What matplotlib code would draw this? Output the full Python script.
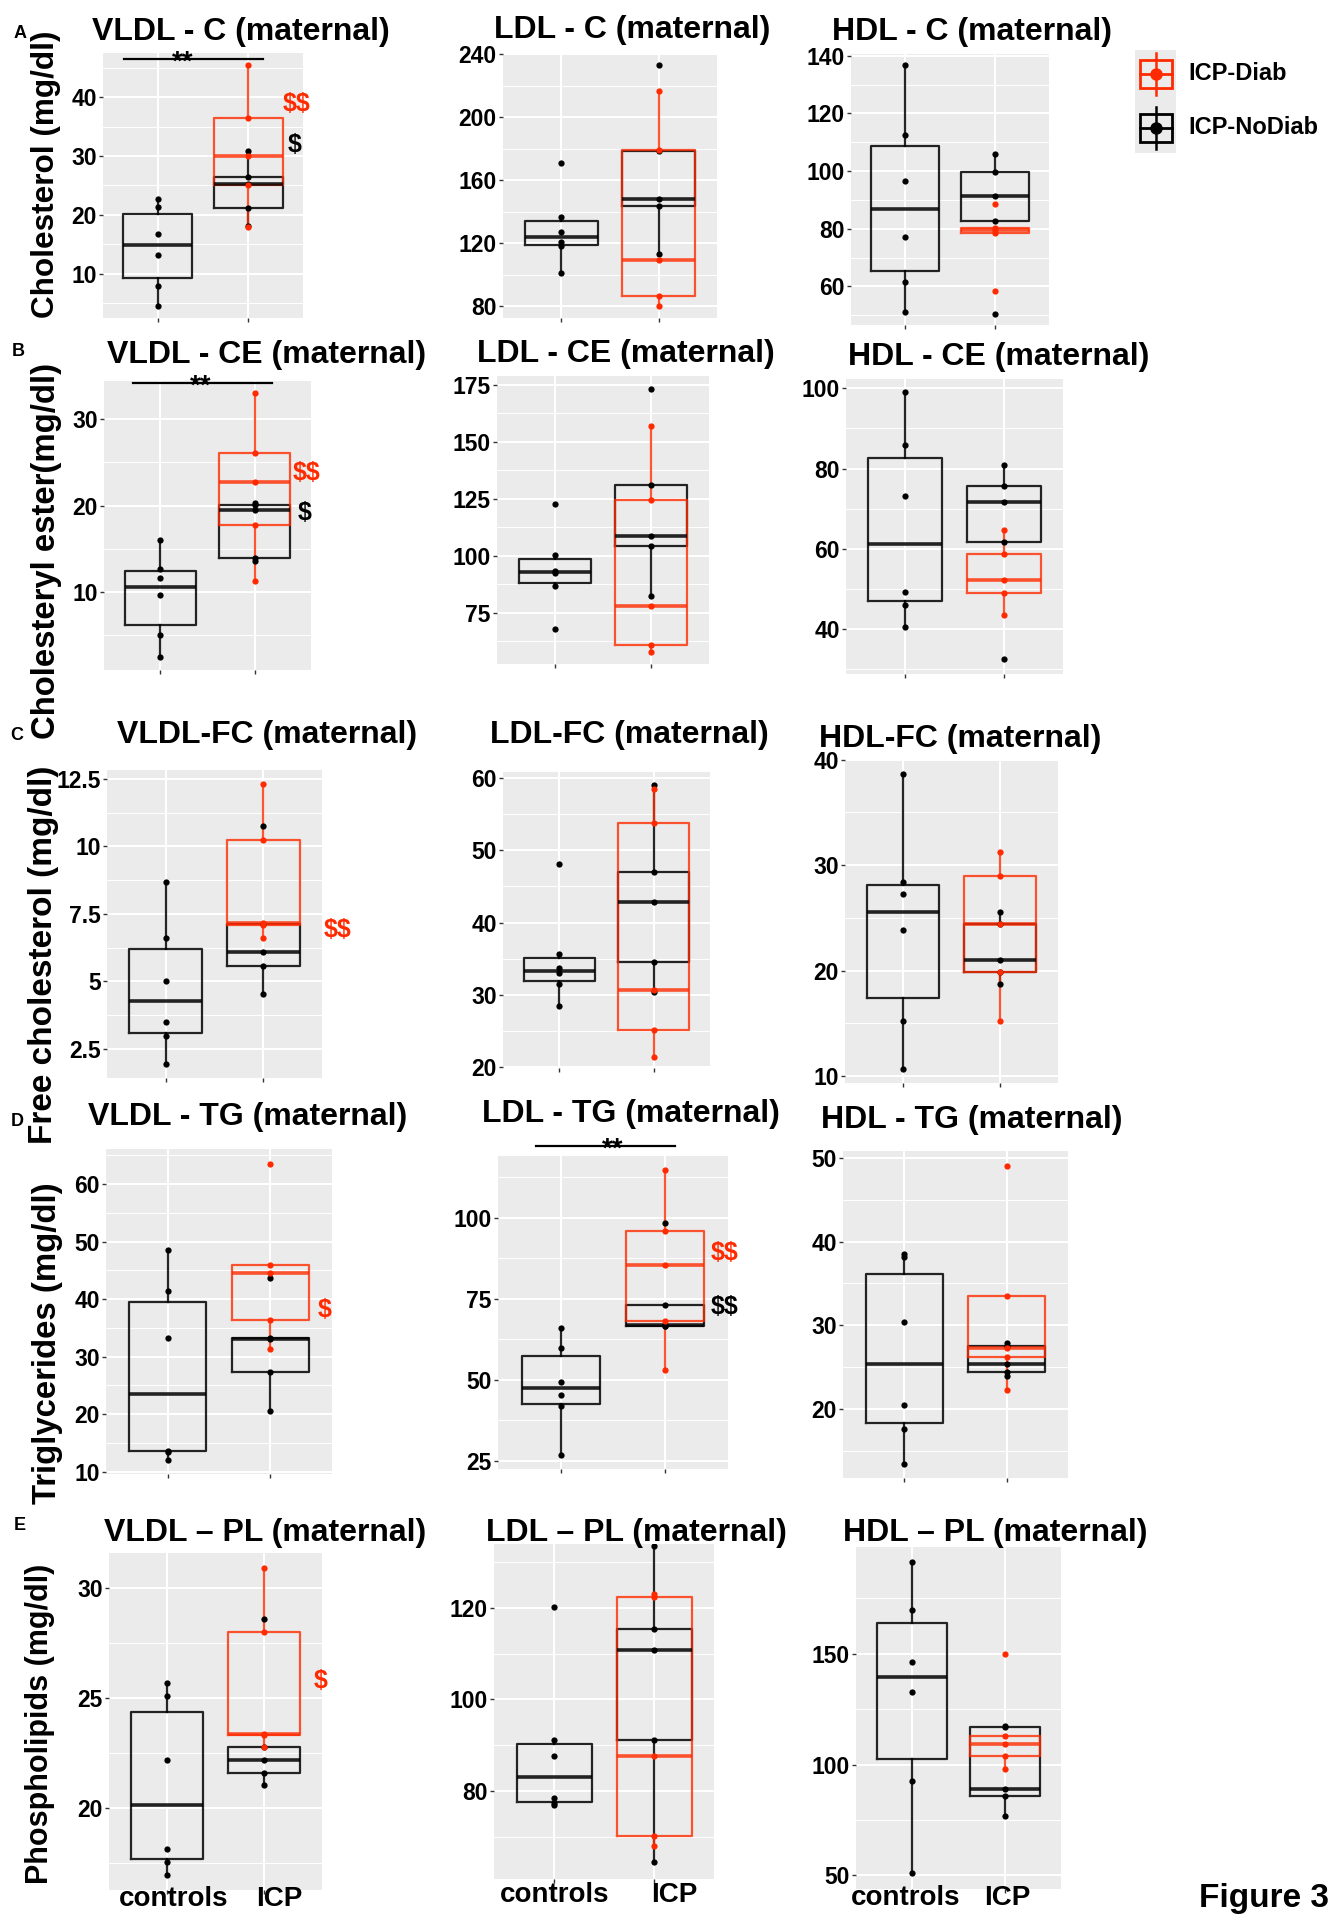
import matplotlib
matplotlib.use("Agg")
import matplotlib.pyplot as plt
import matplotlib.transforms as mtransforms
from matplotlib.patches import Rectangle

plt.rcParams['font.family'] = ['Liberation Sans', 'DejaVu Sans']
plt.rcParams['font.weight'] = 'bold'
plt.rcParams['text.parse_math'] = False

RED = '#ff2a00'
BLACK = '#000000'

# ---- data (mg/dl): controls, ICP-NoDiab, ICP-Diab ----
vldl_c_ctrl = [22.7, 21.4, 16.7, 13.2, 8.0, 4.5]
vldl_c_nodiab = [30.9, 26.4, 25.2, 21.1, 18.2]
vldl_c_diab = [45.4, 36.5, 29.95, 25.0, 17.9]

ldl_c_ctrl = [171.0, 136.6, 127.2, 120.9, 118.3, 101.2]
ldl_c_nodiab = [233.2, 178.7, 147.8, 143.8, 112.9]
ldl_c_diab = [216.7, 179.4, 109.4, 86.5, 79.8]

hdl_c_ctrl = [136.8, 112.6, 96.6, 77.2, 61.4, 51.2]
hdl_c_nodiab = [106.0, 99.7, 91.3, 82.6, 50.5]
hdl_c_diab = [88.4, 80.3, 79.5, 78.4, 58.5]

vldl_ce_ctrl = [16.0, 12.7, 11.6, 9.7, 5.0, 2.5]
vldl_ce_nodiab = [20.3, 20.1, 19.5, 14.0, 13.6]
vldl_ce_diab = [33.0, 26.1, 22.7, 17.7, 11.3]

ldl_ce_ctrl = [122.6, 100.4, 93.5, 92.3, 86.8, 67.9]
ldl_ce_nodiab = [173.0, 131.0, 108.6, 104.5, 82.2]
ldl_ce_diab = [157.1, 124.6, 78.2, 61.1, 58.0]

hdl_ce_ctrl = [99.1, 85.8, 73.1, 49.3, 46.1, 40.4]
hdl_ce_nodiab = [80.8, 75.7, 71.7, 61.8, 32.5]
hdl_ce_diab = [64.6, 58.8, 52.1, 49.1, 43.4]

vldl_fc_ctrl = [8.68, 6.6, 5.02, 3.49, 2.97, 1.93]
vldl_fc_nodiab = [10.76, 7.12, 6.08, 5.56, 4.53]
vldl_fc_diab = [12.31, 10.24, 7.15, 7.1, 6.6]

ldl_fc_ctrl = [48.1, 35.6, 33.7, 33.0, 31.5, 28.4]
ldl_fc_nodiab = [59.0, 47.0, 42.9, 34.6, 30.4]
ldl_fc_diab = [58.5, 53.8, 30.7, 25.1, 21.4]

hdl_fc_ctrl = [38.67, 28.38, 27.24, 23.81, 15.24, 10.71]
hdl_fc_nodiab = [25.53, 24.39, 20.97, 19.83, 18.69]
hdl_fc_diab = [31.22, 28.94, 24.39, 19.83, 15.24]

vldl_tg_ctrl = [48.6, 41.5, 33.3, 13.65, 13.5, 12.1]
vldl_tg_nodiab = [43.7, 33.3, 33.0, 27.3, 20.6]
vldl_tg_diab = [63.5, 46.0, 44.5, 36.3, 31.4]

ldl_tg_ctrl = [66.1, 59.8, 49.5, 45.2, 41.8, 26.8]
ldl_tg_nodiab = [98.4, 73.0, 67.0, 66.7, 66.5]
ldl_tg_diab = [114.9, 95.8, 85.6, 68.1, 53.2]

hdl_tg_ctrl = [38.5, 38.1, 30.4, 20.5, 17.7, 13.5]
hdl_tg_nodiab = [27.9, 27.55, 25.4, 24.4, 24.0]
hdl_tg_diab = [49.0, 33.55, 27.25, 26.2, 22.3]

vldl_pl_ctrl = [25.66, 25.08, 22.18, 18.12, 17.54, 16.95]
vldl_pl_nodiab = [28.57, 22.77, 22.18, 21.6, 21.03]
vldl_pl_diab = [30.9, 28.0, 23.38, 23.3, 22.77]

ldl_pl_ctrl = [120.1, 91.1, 87.6, 78.5, 77.3, 77.0]
ldl_pl_nodiab = [133.5, 115.4, 110.8, 91.1, 64.5]
ldl_pl_diab = [123.0, 122.4, 87.6, 70.2, 68.0]

hdl_pl_ctrl = [191.3, 169.9, 146.5, 132.8, 92.6, 50.9]
hdl_pl_nodiab = [117.3, 117.1, 89.05, 85.7, 76.8]
hdl_pl_diab = [149.7, 112.8, 109.3, 103.8, 97.9]

groups = ['controls', 'ICP']
legend_labels = ['ICP-Diab', 'ICP-NoDiab']

# ---- layout (pixel boxes l, t, r, b) ----
W, H = 1336, 1920
fig = plt.figure(figsize=(W / 100, H / 100), dpi=100)
fig.patch.set_facecolor('white')


def px_axes(l, t, r, b):
    return fig.add_axes([l / W, 1 - b / H, (r - l) / W, (b - t) / H])


def ftext(x, y, s, **kw):
    return fig.text(x / W, 1 - y / H, s, **kw)


panels = [
    ('VLDL - C (maternal)', (241, 32), (103, 53, 303, 318), (2.5, 47.5), [10, 20, 30, 40],
     (vldl_c_ctrl, vldl_c_nodiab, vldl_c_diab)),
    ('LDL - C (maternal)', (632, 30), (503, 53, 717, 318), (72.4, 240.8), [80, 120, 160, 200, 240],
     (ldl_c_ctrl, ldl_c_nodiab, ldl_c_diab)),
    ('HDL - C (maternal)', (972, 32), (851, 54, 1049, 325), (46.6, 140.6), [60, 80, 100, 120, 140],
     (hdl_c_ctrl, hdl_c_nodiab, hdl_c_diab)),
    ('VLDL - CE (maternal)', (267, 355), (104, 381, 311, 670), (1.0, 34.4), [10, 20, 30],
     (vldl_ce_ctrl, vldl_ce_nodiab, vldl_ce_diab)),
    ('LDL - CE (maternal)', (626, 354), (497, 376, 709, 664), (52.6, 178.8), [75, 100, 125, 150, 175],
     (ldl_ce_ctrl, ldl_ce_nodiab, ldl_ce_diab)),
    ('HDL - CE (maternal)', (999, 357), (846, 379, 1063, 674), (28.8, 102.3), [40, 60, 80, 100],
     (hdl_ce_ctrl, hdl_ce_nodiab, hdl_ce_diab)),
    ('VLDL-FC (maternal)', (267, 735), (107, 770, 322, 1078), (1.42, 12.83), [2.5, 5, 7.5, 10, 12.5],
     (vldl_fc_ctrl, vldl_fc_nodiab, vldl_fc_diab)),
    ('LDL-FC (maternal)', (629, 735), (503, 772, 710, 1068), (19.9, 60.8), [20, 30, 40, 50, 60],
     (ldl_fc_ctrl, ldl_fc_nodiab, ldl_fc_diab)),
    ('HDL-FC (maternal)', (960, 739), (845, 759, 1058, 1083), (9.35, 40.06), [10, 20, 30, 40],
     (hdl_fc_ctrl, hdl_fc_nodiab, hdl_fc_diab)),
    ('VLDL - TG (maternal)', (248, 1117), (106, 1149, 332, 1474), (9.6, 66.1), [10, 20, 30, 40, 50, 60],
     (vldl_tg_ctrl, vldl_tg_nodiab, vldl_tg_diab)),
    ('LDL - TG (maternal)', (631, 1114), (498, 1156, 728, 1469), (22.5, 119.1), [25, 50, 75, 100],
     (ldl_tg_ctrl, ldl_tg_nodiab, ldl_tg_diab)),
    ('HDL - TG (maternal)', (972, 1120), (843, 1151, 1068, 1478), (11.8, 50.8), [20, 30, 40, 50],
     (hdl_tg_ctrl, hdl_tg_nodiab, hdl_tg_diab)),
    ('VLDL \u2013 PL (maternal)', (265, 1533), (109, 1553, 322, 1890), (16.28, 31.57), [20, 25, 30],
     (vldl_pl_ctrl, vldl_pl_nodiab, vldl_pl_diab)),
    ('LDL \u2013 PL (maternal)', (636, 1533), (494, 1544, 714, 1879), (60.8, 133.9), [80, 100, 120],
     (ldl_pl_ctrl, ldl_pl_nodiab, ldl_pl_diab)),
    ('HDL \u2013 PL (maternal)', (995, 1533), (856, 1547, 1061, 1889), (43.9, 198.2), [50, 100, 150],
     (hdl_pl_ctrl, hdl_pl_nodiab, hdl_pl_diab)),
]

# nudges (px) of the bottom-row category labels: (dx controls, dx ICP, pad)
label_shift = [(7, 15, -6), (1, 20, -1), (-6, 2, -6)]


def fmt(v):
    return ('%g' % v)


for i, (title, tpos, box, ylim, ticks, (ctrl, nodiab, diab)) in enumerate(panels):
    ax = px_axes(*box)
    ax.set_facecolor('#ebebeb')
    for s in ax.spines.values():
        s.set_visible(False)
    ax.set_xlim(0.4, 2.6)
    ax.set_ylim(*ylim)
    step = ticks[1] - ticks[0]
    minor = [t - step / 2 for t in ticks] + [ticks[-1] + step / 2]
    minor = [m for m in minor if ylim[0] < m < ylim[1]]
    ax.set_yticks(ticks)
    ax.set_yticklabels([fmt(t) for t in ticks])
    ax.set_yticks(minor, minor=True)
    ax.set_xticks([1, 2])
    ax.set_axisbelow(True)
    ax.grid(which='major', color='white', lw=1.5)
    ax.grid(which='minor', axis='y', color='white', lw=0.7)
    ax.tick_params(which='minor', length=0)
    ax.tick_params(axis='y', which='major', length=3, width=1, color='#333333',
                   labelsize=16.5, pad=1.5, labelcolor='black')
    ax.tick_params(axis='x', which='major', length=3, width=1, color='#333333')
    if i >= 12:
        dxc, dxi, pad = label_shift[i - 12]
        ax.set_xticklabels(groups, fontsize=20, fontweight='bold')
        ax.tick_params(axis='x', pad=pad)
        for lab, dx in zip(ax.get_xticklabels(), (dxc, dxi)):
            lab.set_transform(lab.get_transform() +
                              mtransforms.ScaledTranslation(dx / 100, 0, fig.dpi_scale_trans))
    else:
        ax.set_xticklabels([])

    for vals, x, col, a in [(ctrl, 1, BLACK, 0.85), (nodiab, 2, BLACK, 0.85), (diab, 2, RED, 0.8)]:
        ax.boxplot(vals, positions=[x], widths=0.75, whis=1.5, showfliers=False,
                   showcaps=False, manage_ticks=False,
                   boxprops=dict(color=col, lw=1.6, alpha=a),
                   whiskerprops=dict(color=col, lw=1.6, alpha=a),
                   medianprops=dict(color=col, lw=2.6, alpha=a))
    for vals, x, col in [(ctrl, 1, BLACK), (nodiab, 2, BLACK), (diab, 2, RED)]:
        ax.plot([x] * len(vals), vals, 'o', color=col, ms=4.5, mec='none', zorder=5)

    ftext(tpos[0], tpos[1], title, ha='center', va='center', fontsize=23, fontweight='bold')

# significance bars: x0, x1, y (pixels), star x
for x0, x1, y, sx in [(124, 263, 59, 183), (133, 272, 383, 201), (536, 675, 1146, 613)]:
    fig.add_artist(plt.Line2D([x0 / W, x1 / W], [1 - y / H, 1 - y / H], color='black', lw=1.6))
    ftext(sx, y + 11, '**', ha='center', va='baseline', fontsize=20, fontweight='bold')

# $ annotations
for s, x, y, c in [('$$', 297, 104, RED), ('$', 295, 145, BLACK),
                   ('$$', 307, 473, RED), ('$', 305, 513, BLACK),
                   ('$$', 338, 930, RED), ('$', 325, 1310, RED),
                   ('$$', 725, 1253, RED), ('$$', 725, 1307, BLACK),
                   ('$', 321, 1681, RED)]:
    ftext(x, y, s, ha='center', va='center', fontsize=18, fontweight='bold', color=c)

# panel letters
for s, x, y in [('A', 20, 33), ('B', 18, 352), ('C', 17, 735), ('D', 17, 1122), ('E', 20, 1525)]:
    ftext(x, y, s, ha='center', va='center', fontsize=13, fontweight='bold')

# y labels
for s, x, y, fs in [('Cholesterol (mg/dl)', 46, 174, 22.7),
                    ('Cholesteryl ester(mg/dl)', 47, 551, 23.7),
                    ('Free cholesterol (mg/dl)', 44, 955, 24),
                    ('Triglycerides (mg/dl)', 48, 1343, 23.7),
                    ('Phospholipids (mg/dl)', 40, 1724, 22)]:
    ftext(x, y, s, rotation=90, ha='center', va='center', fontsize=fs, fontweight='bold')

# legend
lax = px_axes(1135, 50, 1176, 153)
lax.set_facecolor('#ebebeb')
for s in lax.spines.values():
    s.set_visible(False)
lax.set_xticks([])
lax.set_yticks([])
lax.set_xlim(1135, 1176)
lax.set_ylim(153, 50)
for lab, cy, col in [(legend_labels[0], 74, RED), (legend_labels[1], 127.5, BLACK)]:
    lax.plot([1155.5, 1155.5], [cy - 21, cy + 21], color=col, lw=1.8)
    lax.add_patch(Rectangle((1139.5, cy - 14), 32, 28, fill=False, ec=col, lw=2))
    lax.plot([1139.5, 1171.5], [cy, cy], color=col, lw=2)
    lax.plot([1155.5], [cy], 'o', color=col, ms=9, mec='none')
    ftext(1188, cy, lab, ha='left', va='center', fontsize=17, fontweight='bold')

ftext(1329, 1898, 'Figure 3', ha='right', va='center', fontsize=24, fontweight='bold')

fig.savefig('out.png', dpi=100, facecolor='white')
